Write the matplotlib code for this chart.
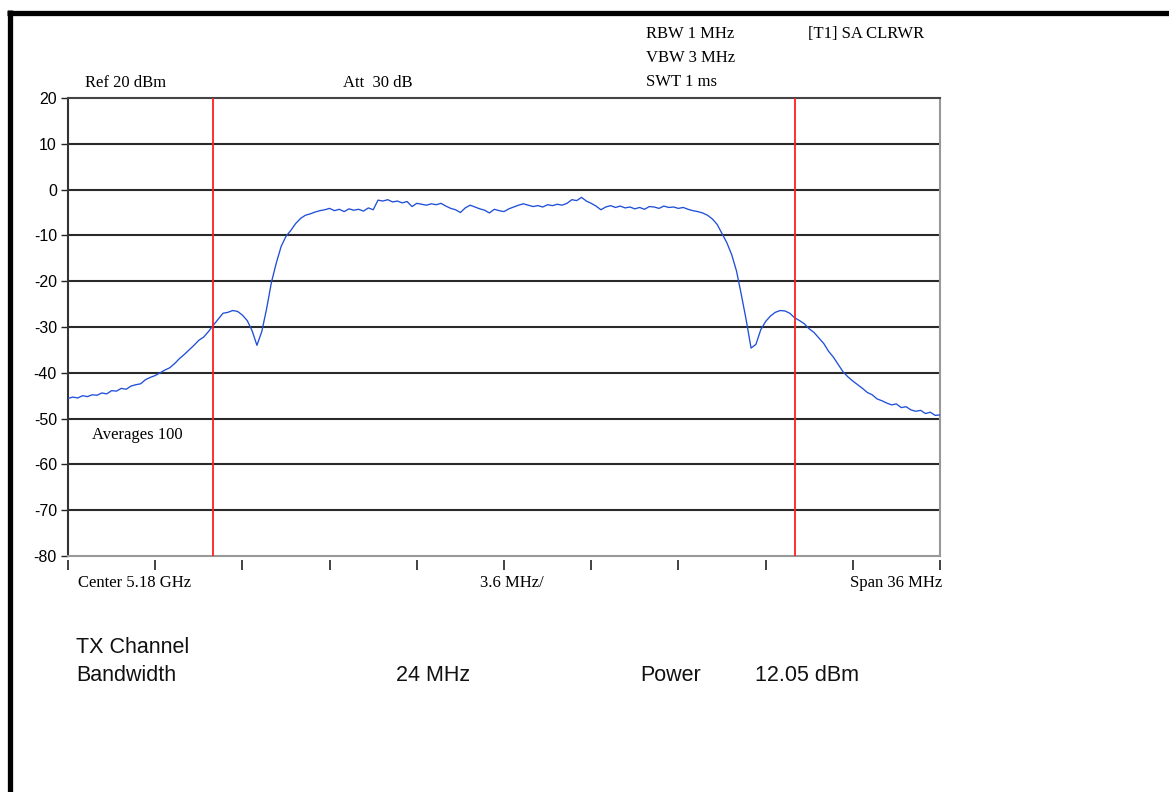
import numpy as np
import matplotlib
matplotlib.use('Agg')
from matplotlib import pyplot as plt
from matplotlib.lines import Line2D

# trace level in dBm, one value every 0.2 MHz from -18 to +18 MHz around center
levels = [
    -45.6, -45.3, -45.5, -45.0, -45.2, -44.8, -44.9, -44.4, -44.6, -43.9,
    -44.0, -43.4, -43.6, -42.9, -42.6, -42.4, -41.5, -41.0, -40.6, -40.0,
    -39.4, -38.9, -38.0, -36.9, -36.0, -35.0, -34.0, -32.9, -32.2, -31.0,
    -29.6, -28.3, -27.0, -26.8, -26.4, -26.6, -27.4, -28.6, -30.8, -34.0,
    -31.0, -26.0, -20.2, -16.0, -12.4, -10.2, -8.9, -7.4, -6.3, -5.6,
    -5.3, -4.9, -4.6, -4.4, -4.1, -4.6, -4.3, -4.8, -4.2, -4.5,
    -4.3, -4.7, -4.0, -4.4, -2.3, -2.5, -2.2, -2.7, -2.5, -2.9,
    -2.6, -3.7, -3.0, -3.2, -3.4, -3.1, -3.3, -3.0, -3.6, -4.1,
    -4.4, -5.0, -4.0, -3.4, -3.8, -4.2, -4.5, -5.1, -4.3, -4.6,
    -4.8, -4.2, -3.8, -3.4, -3.1, -3.4, -3.7, -3.5, -3.8, -3.3,
    -3.5, -3.2, -3.4, -3.0, -2.2, -2.4, -1.7, -2.5, -3.0, -3.6,
    -4.4, -3.8, -3.5, -3.9, -3.6, -4.0, -3.8, -4.2, -3.9, -4.3,
    -3.7, -3.8, -4.1, -3.6, -3.9, -3.8, -4.1, -3.9, -4.3, -4.6,
    -4.8, -5.1, -5.6, -6.4, -7.6, -9.6, -11.6, -14.2, -17.8, -23.0,
    -28.5, -34.6, -33.8, -30.6, -28.8, -27.6, -26.8, -26.4, -26.5, -27.0,
    -28.0, -28.6, -29.3, -30.4, -31.2, -32.4, -33.6, -35.3, -36.6, -38.2,
    -39.8, -40.9, -41.8, -42.6, -43.4, -44.3, -44.8, -45.7, -46.1, -46.6,
    -47.0, -46.8, -47.6, -47.4, -48.1, -48.4, -48.2, -48.9, -48.6, -49.3,
    -49.2,
]
span_mhz = 36.0
div_mhz = 3.6
channel_bw = 24.0
y_ticks = [20, 10, 0, -10, -20, -30, -40, -50, -60, -70, -80]

header_left = ['Ref 20 dBm', 'Att  30 dB']
header_right = ['RBW 1 MHz', 'VBW 3 MHz', 'SWT 1 ms']
trace_tag = '[T1] SA CLRWR'
avg_label = 'Averages 100'
x_labels = ['Center 5.18 GHz', '3.6 MHz/', 'Span 36 MHz']
result_row = ['Bandwidth', '24 MHz', 'Power', '12.05 dBm']

W, H = 1169, 792
fig = plt.figure(figsize=(W / 100, H / 100), dpi=100)

def px(x, y):
    return x / W, 1 - y / H

serif = 'Liberation Serif'
sans = 'Liberation Sans'

ax = fig.add_axes([68 / W, 1 - 556 / H, (940 - 68) / W, (556 - 98) / H])
freq = np.linspace(-span_mhz / 2, span_mhz / 2, len(levels))
ax.plot(freq, levels, color='#1f4fd8', lw=0.95, zorder=3)

# channel limits
for f in (-channel_bw / 2, channel_bw / 2):
    ax.axvline(f, color='#ff2020', lw=1.3, zorder=4)

ax.set_xlim(-span_mhz / 2, span_mhz / 2)
ax.set_ylim(min(y_ticks), max(y_ticks))
ax.set_yticks(y_ticks)
ax.set_yticklabels([str(v) for v in y_ticks], family=sans, fontsize=11.5)
ax.tick_params(axis='y', direction='out', length=5, width=1, pad=3, color='#222222')
ax.set_xticks([])
for v in y_ticks[1:-1]:
    ax.axhline(v, color='#2a2a2a', lw=1.5, zorder=2)

for side, col in [('left', '#333333'), ('top', '#444444'), ('right', '#999999'), ('bottom', '#999999')]:
    ax.spines[side].set_color(col)
    ax.spines[side].set_linewidth(1.5)

# division ticks below the graticule
divs = np.arange(-span_mhz / 2, span_mhz / 2 + 0.01, div_mhz)
ax.vlines(divs, -0.009, -0.031, transform=ax.get_xaxis_transform(),
          color='#222222', lw=1.2, clip_on=False)

fig.text(*px(92, 439), avg_label, family=serif, fontsize=12, va='baseline')

# header annotations
fig.text(*px(85, 87), header_left[0], family=serif, fontsize=12, va='baseline')
fig.text(*px(343, 87), header_left[1], family=serif, fontsize=12, va='baseline')
for i, s in enumerate(header_right):
    fig.text(*px(646, 38 + 24 * i), s, family=serif, fontsize=12, va='baseline')
fig.text(*px(808, 38), trace_tag, family=serif, fontsize=12, va='baseline')

# frequency axis annotations
fig.text(*px(78, 587), x_labels[0], family=serif, fontsize=12, va='baseline')
fig.text(*px(512, 587), x_labels[1], family=serif, fontsize=12, va='baseline', ha='center')
fig.text(*px(942, 587), x_labels[2], family=serif, fontsize=12, va='baseline', ha='right')

# measurement results
fig.text(*px(76, 653), 'TX Channel', family=sans, fontsize=15.5, va='baseline', color='#111111')
for xp, s in zip([76, 396, 640, 755], result_row):
    fig.text(*px(xp, 681), s, family=sans, fontsize=15.5, va='baseline', color='#111111')

# outer frame, top and left edges only
fig.add_artist(Line2D([7 / W, 1], [1 - 12.5 / H, 1 - 12.5 / H], color='black', lw=3.8,
                      solid_capstyle='butt', transform=fig.transFigure))
fig.add_artist(Line2D([9.5 / W, 9.5 / W], [0, 1 - 10 / H], color='black', lw=3.8,
                      solid_capstyle='butt', transform=fig.transFigure))

fig.savefig('out.png', dpi=100, facecolor='white')
